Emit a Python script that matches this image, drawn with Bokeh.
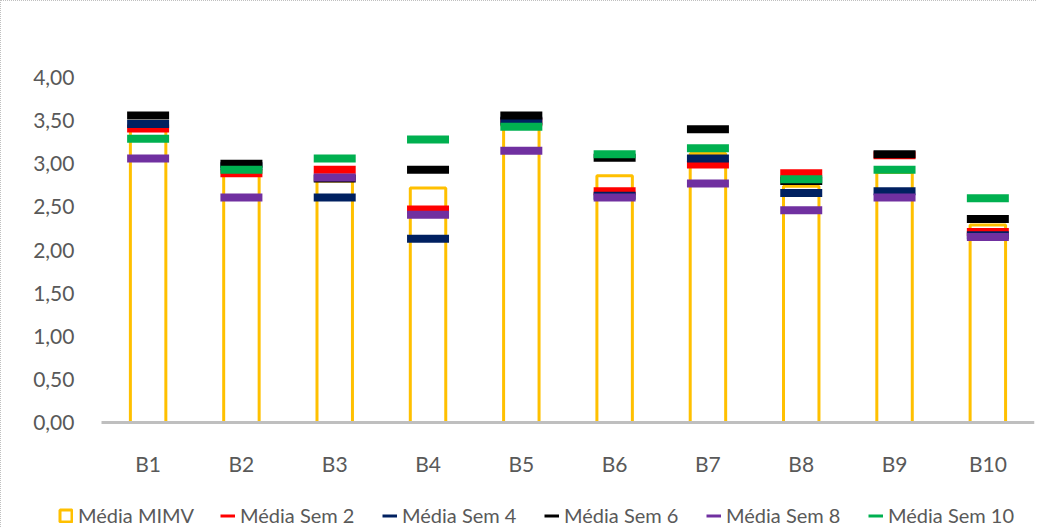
from bokeh.plotting import figure
from bokeh.models import Range1d, FixedTicker, Legend, LegendItem, ColumnDataSource
from bokeh.embed import file_html
from bokeh.resources import INLINE

categories = ["B1", "B2", "B3", "B4", "B5", "B6", "B7", "B8", "B9", "B10"]
media_mimv = [3.42, 2.88, 2.80, 2.72, 3.45, 2.86, 3.12, 2.74, 2.90, 2.29]
media_sem2 = [3.41, 2.89, 2.93, 2.47, 3.48, 2.68, 2.99, 2.89, 3.10, 2.21]
media_sem4 = [3.46, 2.97, 2.61, 2.13, 3.50, 2.63, 3.06, 2.66, 2.68, 2.17]
media_sem6 = [3.56, 3.00, 2.83, 2.93, 3.56, 3.07, 3.40, 2.80, 3.11, 2.36]
media_sem8 = [3.06, 2.61, 2.84, 2.41, 3.15, 2.61, 2.77, 2.46, 2.61, 2.15]
media_sem10 = [3.29, 2.93, 3.06, 3.28, 3.43, 3.11, 3.18, 2.82, 2.93, 2.60]
y_ticks = [0.0, 0.5, 1.0, 1.5, 2.0, 2.5, 3.0, 3.5, 4.0]
y_tick_labels = ["0,00", "0,50", "1,00", "1,50", "2,00", "2,50", "3,00", "3,50", "4,00"]

series = [
    ("Média Sem 2", media_sem2, "#FF0000"),
    ("Média Sem 4", media_sem4, "#002060"),
    ("Média Sem 6", media_sem6, "#000000"),
    ("Média Sem 8", media_sem8, "#7030A0"),
    ("Média Sem 10", media_sem10, "#00B050"),
]

FONT = "Lato"
TXT = "#595959"
MIMV_COLOR = "#FFC000"

# category slots: category i occupies [i, i+1] on the x scale, centred at i + 0.5
x_pos = [i + 0.5 for i in range(len(categories))]
n_cat = len(categories)

W, H = 1036, 527
p = figure(width=W, height=H, x_range=Range1d(-0.857, n_cat), y_range=Range1d(-1.229, 4.232),
           output_backend="svg", toolbar_location=None,
           min_border_left=20, min_border_top=56, min_border_right=3, min_border_bottom=0)
p.styles = {"border-top": "1px dotted #c0c0c0", "border-left": "1px dotted #c0c0c0"}
p.outline_line_color = None
p.xgrid.grid_line_color = None
p.ygrid.grid_line_color = None

src = ColumnDataSource(dict(x=x_pos, cat=categories, mimv=media_mimv))
bars = p.vbar(x="x", top="mimv", bottom=0, width=0.38, source=src,
              fill_color=None, line_color=MIMV_COLOR, line_width=3)

items = [LegendItem(label="Média MIMV", renderers=[bars])]
for name, vals, col in series:
    s = ColumnDataSource(dict(x=x_pos, v=vals))
    p.rect(x="x", y="v", width=0.45, height=8, height_units="screen", source=s,
           fill_color=col, line_color=None)
    key = p.line(x="x", y="v", source=s, line_color=col, line_width=3, visible=False)
    items.append(LegendItem(label=name, renderers=[key]))

# y axis, placed at the left edge of the category area
p.yaxis.fixed_location = 0
p.yaxis.ticker = FixedTicker(ticks=y_ticks)
p.yaxis.major_label_overrides = {t: l for t, l in zip(y_ticks, y_tick_labels)}
p.yaxis.axis_line_color = None
p.yaxis.major_tick_line_color = None
p.yaxis.minor_tick_line_color = None
p.yaxis.major_label_standoff = 21
p.yaxis.major_label_text_font = FONT
p.yaxis.major_label_text_font_size = "21px"
p.yaxis.major_label_text_color = TXT

# x axis at y = 0, spanning the category area
p.xaxis.fixed_location = 0
p.xaxis.bounds = (0, n_cat)
p.xaxis.ticker = FixedTicker(ticks=x_pos)
p.xaxis.major_label_overrides = {x: c for x, c in zip(x_pos, categories)}
p.xaxis.axis_line_color = "#BFBFBF"
p.xaxis.axis_line_width = 3
p.xaxis.major_tick_line_color = None
p.xaxis.minor_tick_line_color = None
p.xaxis.major_label_standoff = 22
p.xaxis.major_label_text_font = FONT
p.xaxis.major_label_text_font_size = "21px"
p.xaxis.major_label_text_color = TXT

legend = Legend(items=items, orientation="horizontal", location=(37, 1),
                label_text_font=FONT, label_text_font_size="20px", label_text_color=TXT,
                glyph_width=15, glyph_height=15, label_standoff=5, label_width=140,
                spacing=2, padding=0, margin=0, border_line_color=None,
                background_fill_alpha=0, inactive_fill_alpha=0)
p.add_layout(legend, "center")

open("out.html", "w").write(file_html(p, INLINE))
